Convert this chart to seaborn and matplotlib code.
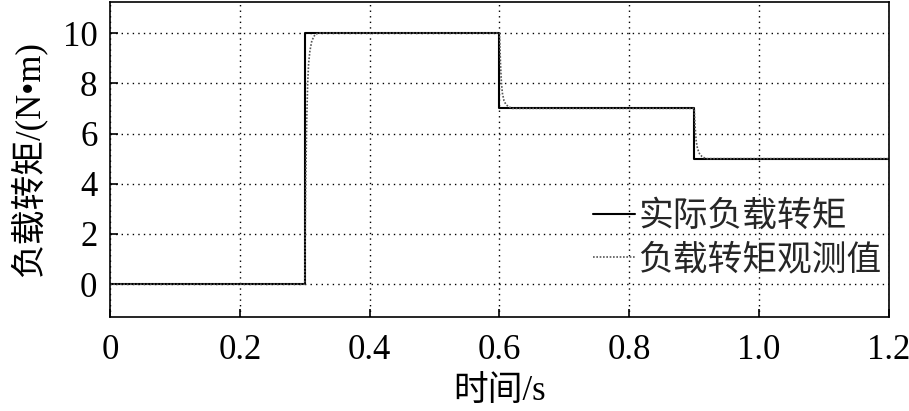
import numpy as np
import pandas as pd
import seaborn as sns
import matplotlib
matplotlib.use("Agg")
import matplotlib.pyplot as plt

# actual load torque (step changes)
t_actual = [0.0, 0.3, 0.3, 0.6, 0.6, 0.9, 0.9, 1.2]
torque_actual = [0, 0, 10, 10, 7, 7, 5, 5]

t_obs = [0.0, 0.300, 0.3015, 0.303, 0.3045, 0.306, 0.308, 0.311, 0.315, 0.320,
         0.600, 0.6015, 0.603, 0.6045, 0.607, 0.610, 0.615, 0.620,
         0.900, 0.9015, 0.903, 0.905, 0.908, 0.912, 0.918, 1.2]
torque_obs = [0, 0, 4.0, 6.5, 8.0, 8.8, 9.3, 9.7, 9.9, 10,
              10, 8.8, 8.0, 7.6, 7.3, 7.15, 7.05, 7.0,
              7.0, 6.2, 5.7, 5.4, 5.2, 5.08, 5.0, 5.0]

x_ticks = [0, 0.2, 0.4, 0.6, 0.8, 1.0, 1.2]
x_labels = ["0", "0.2", "0.4", "0.6", "0.8", "1.0", "1.2"]
y_ticks = [0, 2, 4, 6, 8, 10]

sns.set_theme(style="ticks")
plt.rcParams["font.family"] = ["Liberation Serif", "Noto Sans CJK SC"]
plt.rcParams["axes.unicode_minus"] = False

fig = plt.figure(figsize=(9.09, 4.11), dpi=100)
ax = fig.add_axes([0.121, 0.229, 0.857, 0.767])

df_a = pd.DataFrame({"t": t_actual, "T": torque_actual})
df_o = pd.DataFrame({"t": t_obs, "T": torque_obs})

sns.lineplot(data=df_a, x="t", y="T", sort=False, estimator=None,
             color="black", lw=1.5, label="实际负载转矩", ax=ax)
sns.lineplot(data=df_o, x="t", y="T", sort=False, estimator=None,
             color="#555555", lw=1.2, linestyle=(0, (1, 1)),
             label="负载转矩观测值", ax=ax)

ax.set_xlim(0, 1.2)
ax.set_ylim(-1.3, 11.25)
ax.set_xticks(x_ticks)
ax.set_xticklabels(x_labels)
ax.set_yticks(y_ticks)
ax.grid(True, color="black", linestyle=(0, (1, 3)), linewidth=1.0)
ax.tick_params(direction="in", length=6, width=1.2, labelsize=25,
               colors="black")
ax.tick_params(axis="x", pad=12)
ax.tick_params(axis="y", pad=9)
for s in ax.spines.values():
    s.set_color("black")
    s.set_linewidth(1.2)

ax.set_xlabel("时间/s", fontsize=25, color="black", labelpad=6)
ax.set_ylabel("负载转矩/(N•m)", fontsize=25, color="black", labelpad=12)

ax.legend(loc="center left", bbox_to_anchor=(0.62, 0.247), frameon=False,
          fontsize=25, handlelength=1.2, handletextpad=0.1, labelspacing=0.3,
          borderpad=0, borderaxespad=0)

fig.savefig("out.png", dpi=100)
